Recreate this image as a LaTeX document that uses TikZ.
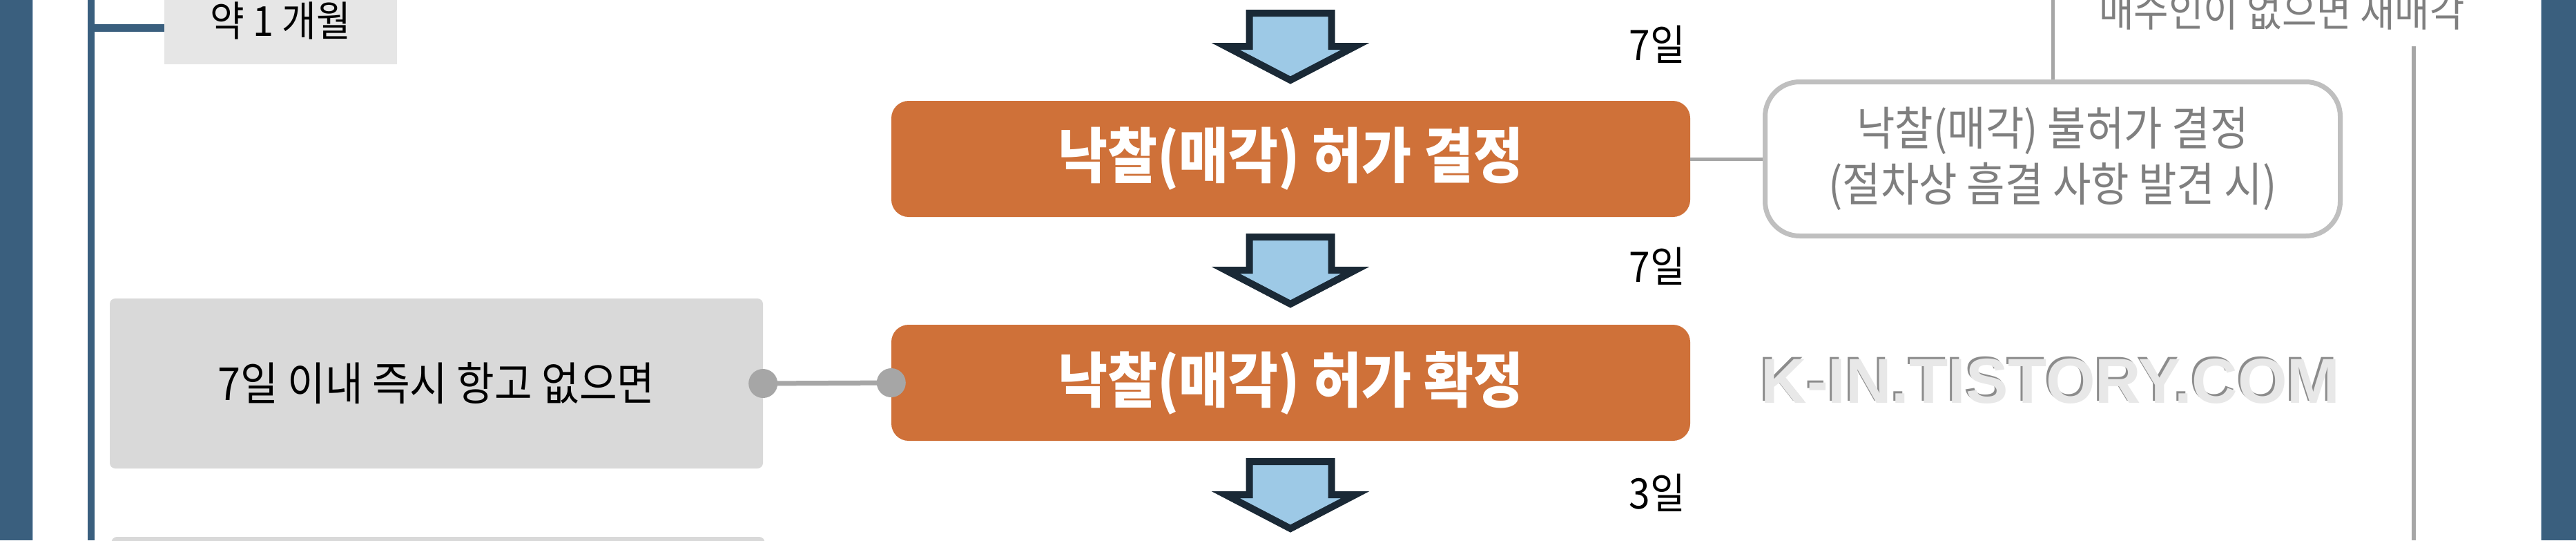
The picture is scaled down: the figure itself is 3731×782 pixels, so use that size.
\documentclass[tikz,border=0pt]{standalone}
\usepackage{fontspec}
\usetikzlibrary{calc}
\newfontfamily\kr[FakeStretch=0.9]{Noto Sans CJK KR}
\newfontfamily\wm{Liberation Sans}
\definecolor{barblue}{RGB}{58,95,126}
\definecolor{baredge}{RGB}{190,206,222}
\definecolor{boxorange}{RGB}{207,113,57}
\definecolor{arrfill}{RGB}{157,201,230}
\definecolor{arrline}{RGB}{26,41,54}
\definecolor{paleg}{RGB}{230,230,230}
\definecolor{midg}{RGB}{217,217,217}
\definecolor{lineg}{RGB}{166,166,166}
\definecolor{frameg}{RGB}{191,191,191}
\definecolor{textg}{RGB}{127,127,127}
\definecolor{wmlight}{RGB}{232,232,232}
\definecolor{wmdark}{RGB}{140,140,140}
\tikzset{
  orangebox/.style={fill=boxorange, rounded corners=25pt, minimum width=1157pt, minimum height=168pt, inner sep=0pt,
    text=white, font=\kr\bfseries\fontsize{87}{96}\selectfont},
  framebox/.style={draw=frameg, line width=7pt, fill=white, rounded corners=50pt, minimum width=833pt, minimum height=223pt,
    inner sep=0pt, align=center, text=textg, font=\kr\fontsize{67}{81}\selectfont},
  sidebox/.style={fill=midg, rounded corners=8pt, minimum width=946pt, minimum height=246pt, inner sep=0pt,
    font=\kr\fontsize{66}{76}\selectfont},
  daylabel/.style={anchor=east, inner sep=0pt, font=\kr\fontsize{61}{70}\selectfont},
  blueline/.style={draw=barblue, line width=10pt},
  grayline/.style={draw=lineg, line width=5pt},
  arrowsty/.style={fill=arrfill, draw=arrline, line width=10pt, line join=miter},
  downarr/.pic={\path[arrowsty] (-59.5,0) -- (-59.5,48) -- (-94,48) -- (0,97) -- (94,48) -- (59.5,48) -- (59.5,0) -- cycle;}
}
\begin{document}
\begin{tikzpicture}[x=1pt,y=-1pt]
\useasboundingbox (0,0) rectangle (3731,782);
\fill[white] (0,0) rectangle (3731,782);
% side bars
\fill[barblue] (0,0) rectangle (47,782);
\draw[baredge, line width=1.5pt] (47.5,0) -- (47.5,782);
\fill[barblue] (3681,0) rectangle (3731,782);
\draw[baredge, line width=1.5pt] (3680.5,0) -- (3680.5,782);
% month box
\node[fill=paleg, minimum width=337pt, minimum height=126pt, inner sep=0pt, font=\kr\fontsize{60}{68}\selectfont]
  (mon) at (406.5,30) {약 1 개월};
\coordinate (vtop) at (132,0);
\coordinate (vbot) at (132,782);
\coordinate (vbr) at (132,40.5);
\draw[blueline] (vtop) -- (vbot);
\draw[blueline, line width=11pt] (vbr) -- (vbr -| mon.west);
% arrows
\pic (arrA) at (1869,19) {downarr};
\pic (arrB) at (1869,343) {downarr};
\pic (arrC) at (1869,668) {downarr};
% day labels
\node[daylabel] (d1) at (2441,64) {7일};
\node[daylabel] (d2) at (2441,385) {7일};
\node[daylabel] (d3) at (2441,713) {3일};
% main boxes
\node[orangebox] (dec) at (1869.5,230) {낙찰(매각) 허가 결정};
\node[orangebox] (conf) at (1869.5,554) {낙찰(매각) 허가 확정};
% refusal box
\node[framebox] (ref) at (2973,230) {낙찰(매각) 불허가 결정\\(절차상 흠결 사항 발견 시)};
\coordinate (reftop) at (2973,0);
\draw[grayline] (reftop) -- (ref.north);
\draw[grayline] (dec.east) -- (ref.west);
% top right text and line
\node[text=textg, inner sep=0pt, font=\kr\fontsize{61}{70}\selectfont] (resale) at (3305,16) {매수인이 없으면 새매각};
\coordinate (rlt) at (3496,67);
\coordinate (rlb) at (3496,782);
\draw[grayline, line width=6pt] (rlt) -- (rlb);
% left boxes
\node[sidebox] (appeal) at (632,555) {7일 이내 즉시 항고 없으면};
\node[sidebox] (next) at (634.5,900) {};
\draw[lineg, line width=7pt] (appeal.east) -- (conf.west);
\fill[lineg] (appeal.east) circle (21);
\fill[lineg] (conf.west) circle (21);
% watermark
\node[text=wmdark, inner sep=0pt, font=\wm\bfseries\fontsize{92}{100}\selectfont] at (2967,549) {K-IN.TISTORY.COM};
\node[text=wmlight, inner sep=0pt, font=\wm\bfseries\fontsize{92}{100}\selectfont] (wmark) at (2970,552) {K-IN.TISTORY.COM};
\end{tikzpicture}
\end{document}
